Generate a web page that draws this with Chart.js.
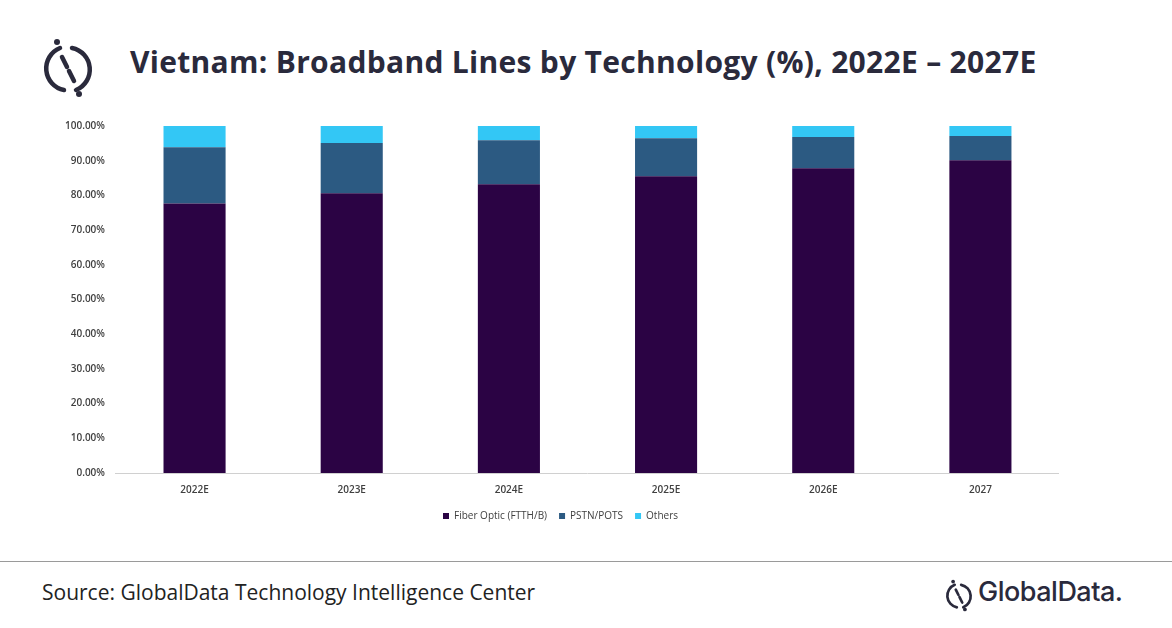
<!DOCTYPE html>
<html>
<head>
<meta charset="utf-8">
<script src="https://cdn.jsdelivr.net/npm/chart.js@4"></script>
<style>
  body { margin: 0; width: 1172px; height: 628px; background: #fff; position: relative; overflow: hidden; font-family: 'Open Sans', sans-serif; }
  #title { position: absolute; left: 130px; top: 41px; font: bold 30px 'Open Sans', sans-serif; color: #2a2a3c; letter-spacing: 0.3px; }
  #wrap { position: absolute; left: 22px; top: 113px; width: 1037px; height: 420px; }
  #rule { position: absolute; left: 0; top: 561px; width: 1172px; height: 1px; background: #9a9a9a; }
  #source { position: absolute; left: 42px; top: 578px; font: 21px 'Open Sans', sans-serif; color: #222; }
  #brand { position: absolute; left: 978px; top: 575px; font: 500 27px 'Inter', sans-serif; color: #2a2a3c; letter-spacing: -0.5px; }
</style>
</head>
<body>
<svg style="position:absolute;left:40px;top:37px" width="56" height="60" viewBox="0 0 56 60">
  <path d="M 20 11 A 22 22 0 0 0 24 53" fill="none" stroke="#2a2a3c" stroke-width="4.5" stroke-linecap="round"/>
  <path d="M 32 11 A 22 22 0 0 1 36 53" fill="none" stroke="#2a2a3c" stroke-width="4.5" stroke-linecap="round"/>
  <line x1="22" y1="20" x2="27" y2="30" stroke="#2a2a3c" stroke-width="4.5" stroke-linecap="round"/>
  <line x1="29" y1="34" x2="34" y2="44" stroke="#2a2a3c" stroke-width="4.5" stroke-linecap="round"/>
  <circle cx="17" cy="5" r="3" fill="#2a2a3c"/>
  <circle cx="39" cy="57" r="3" fill="#2a2a3c"/>
</svg>
<div id="title">Vietnam: Broadband Lines by Technology (%), 2022E – 2027E</div>
<div id="wrap"><canvas id="c"></canvas></div>
<div id="rule"></div>
<div id="source">Source: GlobalData Technology Intelligence Center</div>
<svg style="position:absolute;left:944px;top:577px" width="30" height="36" viewBox="0 0 56 60">
  <path d="M 20 11 A 22 22 0 0 0 24 53" fill="none" stroke="#2a2a3c" stroke-width="5" stroke-linecap="round"/>
  <path d="M 32 11 A 22 22 0 0 1 36 53" fill="none" stroke="#2a2a3c" stroke-width="5" stroke-linecap="round"/>
  <line x1="22" y1="20" x2="27" y2="30" stroke="#2a2a3c" stroke-width="5" stroke-linecap="round"/>
  <line x1="29" y1="34" x2="34" y2="44" stroke="#2a2a3c" stroke-width="5" stroke-linecap="round"/>
  <circle cx="17" cy="5" r="3.5" fill="#2a2a3c"/>
  <circle cx="39" cy="57" r="3.5" fill="#2a2a3c"/>
</svg>
<div id="brand">GlobalData.</div>
<script>
// Données
const years = ['2022E', '2023E', '2024E', '2025E', '2026E', '2027'];
const fiber = [77.7, 80.6, 83.2, 85.5, 87.8, 90.1];
const pstn = [16.2, 14.5, 12.7, 11.0, 9.0, 7.0];
const others = [6.1, 4.9, 4.1, 3.5, 3.2, 2.9];

const tickFont = { family: 'Open Sans', size: 10, weight: '600' };

new Chart(document.getElementById('c'), {
  type: 'bar',
  data: {
    labels: years,
    datasets: [
      { label: 'Fiber Optic (FTTH/B)', data: fiber, backgroundColor: '#2b0344' },
      { label: 'PSTN/POTS', data: pstn, backgroundColor: '#2c5a82' },
      { label: 'Others', data: others, backgroundColor: '#33c7f5' },
    ],
  },
  options: {
    responsive: true,
    maintainAspectRatio: false,
    animation: false,
    datasets: { bar: { categoryPercentage: 1, barPercentage: 0.395 } },
    plugins: {
      legend: {
        position: 'bottom',
        labels: { boxWidth: 6, boxHeight: 6, padding: 12, color: '#404040', font: { family: 'Open Sans', size: 10 } },
      },
      tooltip: { enabled: false },
    },
    scales: {
      x: {
        stacked: true,
        grid: { display: false },
        border: { color: '#d0d0d0' },
        ticks: { color: '#404040', font: tickFont },
      },
      y: {
        stacked: true,
        min: 0,
        max: 100,
        grid: { display: false },
        border: { display: false },
        ticks: { stepSize: 10, color: '#404040', font: tickFont, callback: (v) => v.toFixed(2) + '%' },
      },
    },
    layout: { padding: { top: 13, bottom: 2, left: 40, right: 0 } },
  },
});
</script>
</body>
</html>
